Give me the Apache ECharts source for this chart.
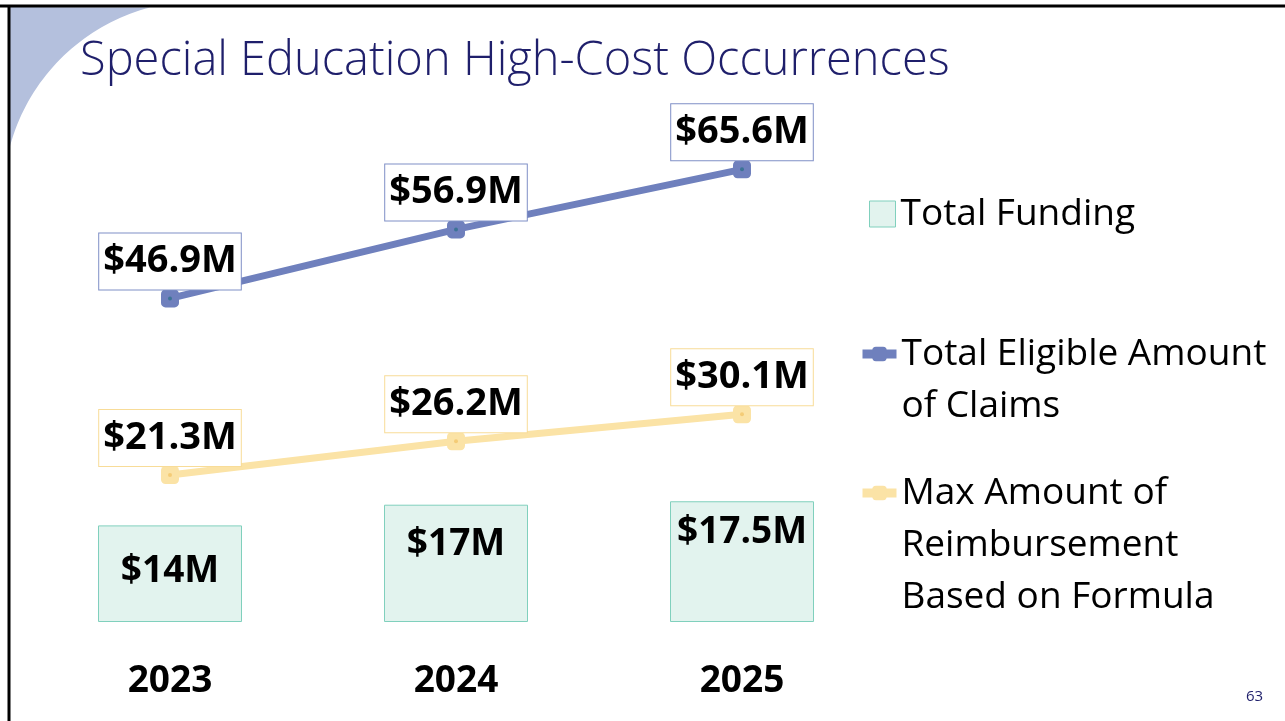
<!DOCTYPE html>
<html>
<head>
<meta charset="utf-8">
<script src="https://cdn.jsdelivr.net/npm/echarts@6/dist/echarts.min.js"></script>
<style>
    html, body { margin: 0; padding: 0; background: #fff; }
    #chart-main { width: 1285px; height: 721px; }
</style>
</head>
<body>
<div id="chart-main"></div>
<script>
// 数据
var years = ['2023', '2024', '2025'];
var totalFunding = [14, 17, 17.5];
var eligibleClaims = [46.9, 56.9, 65.6];
var maxReimbursement = [21.3, 26.2, 30.1];
var seriesNames = ['Total Funding', 'Total Eligible Amount of Claims', 'Max Amount of Reimbursement Based on Formula'];

function moneyLabel(p) {
    return '$' + p.value + 'M';
}

// 左上角装饰：矩形减去一个大圆
function cornerPoints() {
    var cx = 200, cy = 198, r = 197;
    var pts = [[10, 7]];
    var a0 = Math.atan2(7 - cy, 150 - cx);
    var a1 = Math.atan2(150 - cy, 10 - cx);
    if (a1 > a0) a1 -= Math.PI * 2;
    for (var i = 0; i <= 40; i++) {
        var a = a0 + (a1 - a0) * i / 40;
        pts.push([cx + r * Math.cos(a), cy + r * Math.sin(a)]);
    }
    return pts;
}

// 图表
function getChartMain() {
    var chart = echarts.init(document.getElementById('chart-main'));
    var font = 'Open Sans';
    var legendText = {
        color: '#000',
        fontSize: 37,
        lineHeight: 52
    };
    // 柱子标签离顶部的距离（原图各不相同）
    var barLabelGap = [28, 21, 13];

    option = {
        animation: false,
        textStyle: {
            fontFamily: font
        },
        graphic: [
            {
                type: 'polygon',
                shape: {
                    points: cornerPoints()
                },
                style: {
                    fill: '#b4c0dd'
                }
            },
            {
                type: 'line',
                shape: { x1: 0, y1: 6, x2: 1285, y2: 6 },
                style: { stroke: '#000', lineWidth: 3 }
            },
            {
                type: 'line',
                shape: { x1: 9, y1: 5, x2: 9, y2: 721 },
                style: { stroke: '#000', lineWidth: 3 }
            },
            {
                type: 'text',
                left: 80,
                top: 38,
                style: {
                    text: 'Special Education High-Cost Occurrences',
                    fill: '#1f1f6b',
                    font: '300 47px "Open Sans"'
                }
            },
            {
                type: 'text',
                left: 1246,
                top: 689,
                style: {
                    text: '63',
                    fill: '#1f1f6b',
                    font: '15px "Open Sans"'
                }
            }
        ],
        legend: [
            {
                left: 869,
                top: 188,
                padding: 0,
                itemWidth: 26,
                itemHeight: 26,
                icon: 'rect',
                selectedMode: false,
                data: [seriesNames[0]],
                itemStyle: {
                    borderColor: '#80d0bd',
                    borderWidth: 1
                },
                textStyle: legendText
            },
            {
                left: 858,
                top: 276,
                padding: 0,
                itemWidth: 34,
                itemHeight: 18,
                selectedMode: false,
                data: [seriesNames[1]],
                lineStyle: { width: 9 },
                formatter: function () {
                    return '\nTotal Eligible Amount\nof Claims';
                },
                textStyle: legendText
            },
            {
                left: 858,
                top: 363,
                padding: 0,
                itemWidth: 34,
                itemHeight: 18,
                selectedMode: false,
                data: [seriesNames[2]],
                lineStyle: { width: 9 },
                formatter: function () {
                    return '\n\nMax Amount of\nReimbursement\nBased on Formula';
                },
                textStyle: legendText
            }
        ],
        grid: {
            left: 27,
            width: 858,
            top: 70,
            bottom: 99
        },
        xAxis: {
            type: 'category',
            data: years,
            axisLine: { show: false },
            axisTick: { show: false },
            axisLabel: {
                color: '#000',
                fontSize: 37,
                fontWeight: 'bold',
                margin: 41
            }
        },
        yAxis: {
            type: 'value',
            min: 0,
            max: 80,
            show: false,
            splitLine: { show: false }
        },
        series: [
            {
                name: seriesNames[0],
                type: 'bar',
                data: totalFunding.map(function (v, i) {
                    return { value: v, label: { distance: barLabelGap[i] } };
                }),
                barWidth: 144,
                itemStyle: {
                    color: '#e2f3ee',
                    borderColor: '#80d0bd',
                    borderWidth: 1
                },
                label: {
                    show: true,
                    position: 'insideTop',
                    formatter: moneyLabel,
                    color: '#000',
                    fontSize: 37,
                    fontWeight: 'bold'
                }
            },
            {
                name: seriesNames[1],
                type: 'line',
                data: eligibleClaims,
                symbol: 'roundRect',
                symbolSize: 18,
                color: '#6f80bd',
                lineStyle: { width: 7, color: '#6f80bd' },
                itemStyle: { color: '#6f80bd' },
                z: 3,
                label: {
                    show: true,
                    position: 'top',
                    distance: 0,
                    formatter: moneyLabel,
                    color: '#000',
                    fontSize: 38,
                    fontWeight: 'bold',
                    lineHeight: 46,
                    backgroundColor: '#fff',
                    borderColor: '#7f8fc6',
                    borderWidth: 1,
                    padding: [5, 4, 5, 4]
                }
            },
            {
                name: seriesNames[2],
                type: 'line',
                data: maxReimbursement,
                symbol: 'roundRect',
                symbolSize: 18,
                color: '#fbe3a6',
                lineStyle: { width: 7, color: '#fbe3a6' },
                itemStyle: { color: '#fbe3a6' },
                z: 3,
                label: {
                    show: true,
                    position: 'top',
                    distance: 0,
                    formatter: moneyLabel,
                    color: '#000',
                    fontSize: 38,
                    fontWeight: 'bold',
                    lineHeight: 46,
                    backgroundColor: '#fff',
                    borderColor: '#f8dc98',
                    borderWidth: 1,
                    padding: [5, 4, 5, 4]
                }
            },
            // 标记中心的小点
            {
                name: 'dot1',
                type: 'scatter',
                data: eligibleClaims,
                symbolSize: 4,
                silent: true,
                z: 4,
                itemStyle: { color: '#2f6f8c' }
            },
            {
                name: 'dot2',
                type: 'scatter',
                data: maxReimbursement,
                symbolSize: 4,
                silent: true,
                z: 4,
                itemStyle: { color: '#f3c56a' }
            }
        ]
    };

    chart.setOption(option);
}

getChartMain();
</script>
</body>
</html>
